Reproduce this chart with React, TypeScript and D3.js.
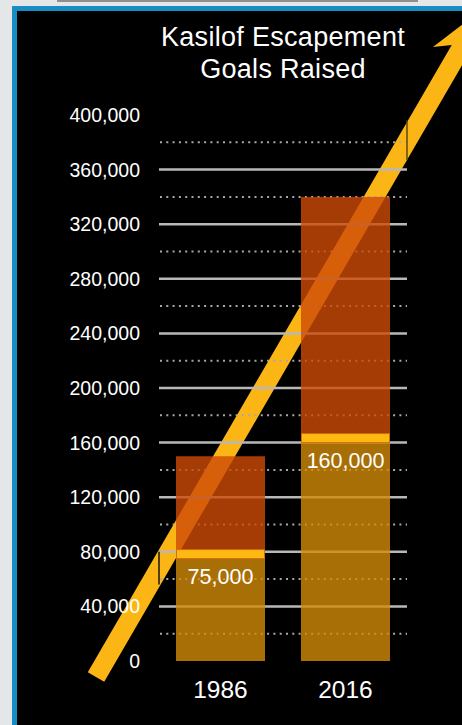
import React, { useEffect, useRef } from 'react';
import * as d3 from 'd3';

const years = ['1986', '2016'];
const lowerGoals = [75000, 160000];
const upperGoals = [150000, 340000];
const goalLabels = ['75,000', '160,000'];
const majorTicks = [0, 40000, 80000, 120000, 160000, 200000, 240000, 280000, 320000, 360000, 400000];
const gridValues = [40000, 80000, 120000, 160000, 200000, 240000, 280000, 320000, 360000];
const dottedValues = [20000, 60000, 100000, 140000, 180000, 220000, 260000, 300000, 340000, 380000];
const titleLines = ['Kasilof Escapement', 'Goals Raised'];

const WIDTH = 462;
const HEIGHT = 725;
const FONT = '"Liberation Sans", Arial, Helvetica, sans-serif';

export default function App() {
  const svgRef = useRef<SVGSVGElement>(null);

  useEffect(() => {
    if (!svgRef.current) return;
    const svg = d3.select(svgRef.current);
    svg.selectAll('*').remove();

    // photo backdrop + blue frame
    svg.append('rect').attr('width', WIDTH).attr('height', HEIGHT).attr('fill', '#e4e6e8');
    svg.append('rect').attr('x', 57).attr('y', 0).attr('width', 361).attr('height', 2).attr('fill', '#8e8e8e');
    svg.append('rect').attr('x', 12).attr('y', 6).attr('width', WIDTH).attr('height', HEIGHT).attr('fill', '#178dc4');
    svg.append('rect').attr('x', 17).attr('y', 11).attr('width', WIDTH).attr('height', HEIGHT).attr('fill', '#000');

    const left = 159;
    const right = 407;

    const yScale = d3.scaleLinear().domain([0, 400000]).range([661, 115]);
    const xScale = d3
      .scaleBand<string>()
      .domain(years)
      .range([left, right])
      .paddingInner(0.288)
      .paddingOuter(0.136);

    // Title
    svg.append('text')
      .attr('x', 283)
      .attr('font-family', FONT)
      .attr('font-size', 27)
      .attr('letter-spacing', 0.3)
      .attr('fill', '#fff')
      .attr('text-anchor', 'middle')
      .selectAll('tspan')
      .data(titleLines)
      .join('tspan')
      .attr('x', 283)
      .attr('y', (_, i) => 46 + i * 32)
      .text(d => d);

    // Arrow (decoration), drawn beneath gridlines and bars
    const p0: [number, number] = [96, 677];
    const dir: [number, number] = [0.502, -0.865];
    const nrm: [number, number] = [-0.865, -0.502];
    const pt = (u: number, v: number) =>
      [p0[0] + dir[0] * u + nrm[0] * v, p0[1] + dir[1] * u + nrm[1] * v] as [number, number];
    const hw = 9.5;
    const arrowPts = [
      pt(0, hw), pt(725, hw), pt(714, 24.8), pt(774, 0),
      pt(714, -24.8), pt(725, -hw), pt(0, -hw),
    ];
    svg.append('polygon')
      .attr('points', arrowPts.map(p => p.join(',')).join(' '))
      .attr('fill', '#fbb615');

    // Gridlines
    svg.append('g')
      .selectAll('line')
      .data(gridValues)
      .join('line')
      .attr('x1', left)
      .attr('x2', right)
      .attr('y1', d => yScale(d))
      .attr('y2', d => yScale(d))
      .attr('stroke', '#b8b8b8')
      .attr('stroke-width', 2.5);

    svg.append('g')
      .selectAll('line')
      .data(dottedValues)
      .join('line')
      .attr('x1', left + 1)
      .attr('x2', right)
      .attr('y1', d => yScale(d))
      .attr('y2', d => yScale(d))
      .attr('stroke', '#a8a8a8')
      .attr('stroke-width', 2)
      .attr('stroke-dasharray', '2,4.3');

    // stray edge marks seen in the original
    svg.append('line').attr('x1', right).attr('x2', right)
      .attr('y1', yScale(396000)).attr('y2', yScale(367000))
      .attr('stroke', '#5c4712').attr('stroke-width', 1.5);
    svg.append('line').attr('x1', left).attr('x2', left)
      .attr('y1', yScale(80000)).attr('y2', yScale(56000))
      .attr('stroke', '#1a1405').attr('stroke-width', 1.5);

    // Y labels
    svg.append('g')
      .selectAll('text')
      .data(majorTicks)
      .join('text')
      .attr('x', 140)
      .attr('y', d => yScale(d))
      .attr('dy', '0.36em')
      .attr('text-anchor', 'end')
      .attr('font-family', FONT)
      .attr('font-size', 19.5)
      .attr('fill', '#fff')
      .text(d => d3.format(',')(d));

    // Bars
    const bw = xScale.bandwidth();
    const bars = svg.append('g');
    years.forEach((yr, i) => {
      const x = xScale(yr)!;
      bars.append('rect')
        .attr('x', x)
        .attr('y', yScale(lowerGoals[i]))
        .attr('width', bw)
        .attr('height', yScale(0) - yScale(lowerGoals[i]))
        .attr('fill', '#d28b08')
        .attr('fill-opacity', 0.8);
      bars.append('rect')
        .attr('x', x)
        .attr('y', yScale(upperGoals[i]))
        .attr('width', bw)
        .attr('height', yScale(lowerGoals[i]) - yScale(upperGoals[i]))
        .attr('fill', '#ce4a06')
        .attr('fill-opacity', 0.8);
      bars.append('rect')
        .attr('x', x + 0.5)
        .attr('y', yScale(lowerGoals[i]) - 9)
        .attr('width', bw - 1)
        .attr('height', 9)
        .attr('fill', '#fdb913')
        .attr('stroke', '#d0700a')
        .attr('stroke-width', 1);
      bars.append('text')
        .attr('x', x + bw / 2)
        .attr('y', yScale(lowerGoals[i]) + 25)
        .attr('text-anchor', 'middle')
        .attr('font-family', FONT)
        .attr('font-size', 21.5)
        .attr('fill', '#fff')
        .text(goalLabels[i]);
      bars.append('text')
        .attr('x', x + bw / 2)
        .attr('y', 698)
        .attr('text-anchor', 'middle')
        .attr('font-family', FONT)
        .attr('font-size', 24.5)
        .attr('fill', '#fff')
        .text(yr);
    });
  }, []);

  return (
    <svg
      ref={svgRef}
      width={WIDTH}
      height={HEIGHT}
      style={{ position: 'absolute', left: 0, top: 0, display: 'block' }}
    />
  );
}
